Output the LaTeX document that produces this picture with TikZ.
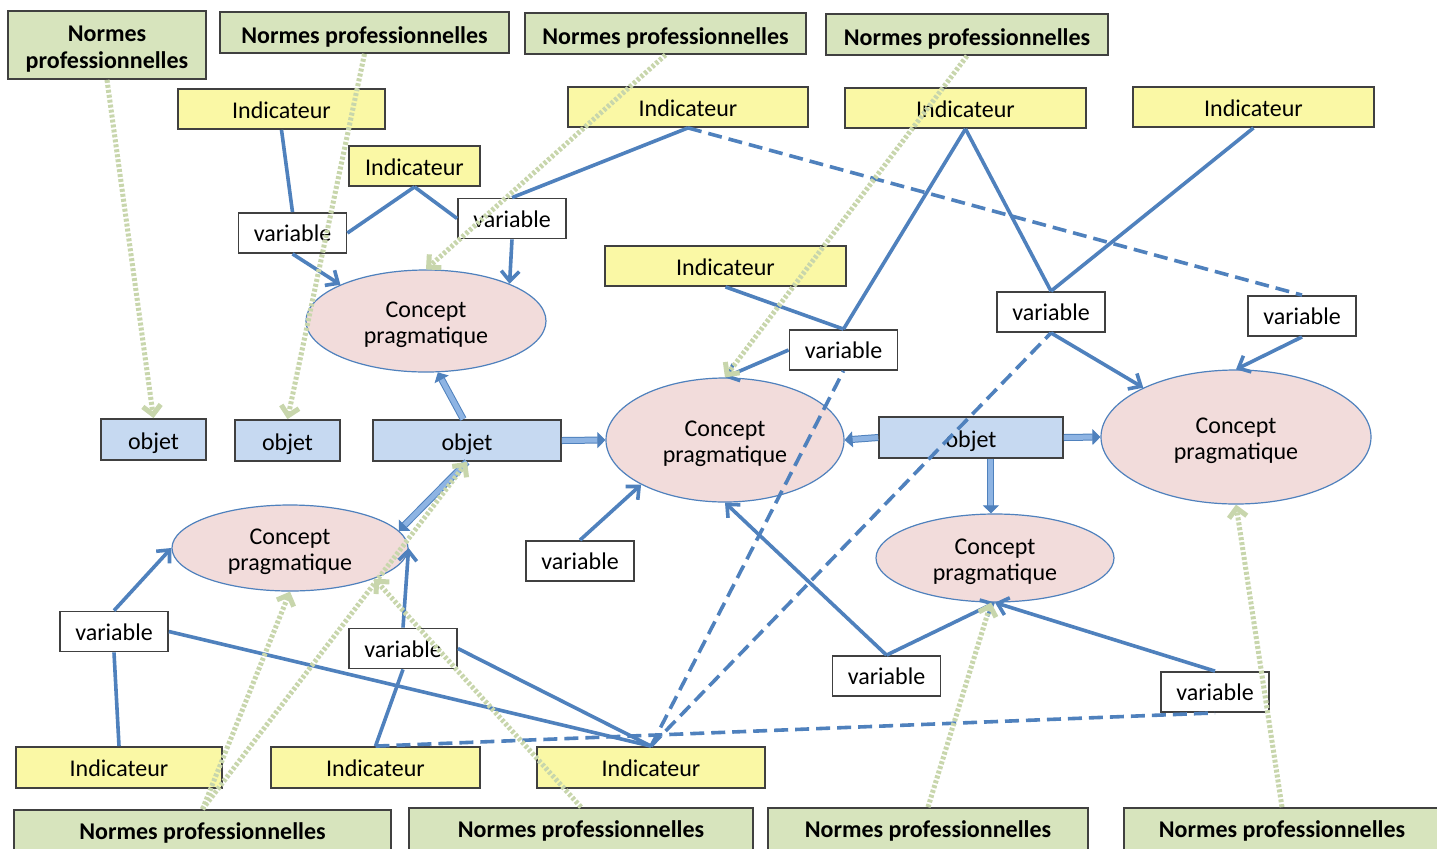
\documentclass[tikz,border=0pt]{standalone}
\usepackage{fontspec}
\setmainfont{Carlito}
\usetikzlibrary{arrows.meta,shapes.geometric}
\definecolor{lnblue}{HTML}{4F81BD}
\definecolor{normfill}{HTML}{D7E4BD}
\definecolor{indfill}{HTML}{FAF8A5}
\definecolor{objfill}{HTML}{C6D9F1}
\definecolor{concfill}{HTML}{F2DCDB}
\definecolor{greenln}{HTML}{C8D6AC}
\definecolor{boxln}{HTML}{404040}
\definecolor{blockfill}{HTML}{8EB4E3}
\newcommand\upstrut{\rule{0pt}{11.7pt}}
\begin{document}
\begin{tikzpicture}[x=0.5pt,y=-0.5pt,
 box/.style={draw=boxln, line width=0.9pt, inner sep=0pt, font=\fontsize{12}{13}\selectfont, align=center},
 norme/.style={box, fill=normfill, font=\fontsize{12}{13.5}\selectfont\bfseries},
 normetop/.style={norme, minimum height=20.5pt, text height=10.6pt, text depth=0pt},
 normebot/.style={norme, minimum height=23pt, text height=6pt, text depth=0pt},
 indic/.style={box, fill=indfill, minimum height=20pt, text height=9.3pt, text depth=0pt},
 varb/.style={box, fill=white, minimum width=54pt, minimum height=20pt, text height=8.8pt, text depth=0pt},
 objb/.style={box, fill=objfill, minimum height=20.5pt, text height=9.5pt, text depth=0pt},
 concept/.style={ellipse, draw=lnblue, line width=0.6pt, fill=concfill, inner sep=0pt, align=center, font=\fontsize{12}{13}\selectfont},
 link/.style={draw=lnblue, line width=1.8pt},
 arr/.style={link, -{Straight Barb[length=5pt,width=9pt]}},
 dsh/.style={link, dash pattern=on 7pt off 3.5pt},
 blockarr/.style={draw=lnblue, double=blockfill, line width=0.5pt, double distance=2.5pt, -{Triangle[length=4pt,width=8pt]}},
 normarr/.style={draw=greenln, line width=2.5pt, dash pattern=on 1.5pt off 1pt, -{Straight Barb[length=4.5pt,width=9pt]}}
]
\useasboundingbox (0,0) rectangle (1437,848);
\fill[white] (0,0) rectangle (1437,848);
\clip (0,0) rectangle (1437,848);

% Normes professionnelles
\node[norme, minimum width=99pt, minimum height=34pt] (N1) at (107,45) {\upstrut Normes\\professionnelles};
\node[normetop, minimum width=144.5pt] (N2) at (364.5,32.5) {Normes professionnelles};
\node[normetop, minimum width=140.5pt] (N3) at (665.5,33.5) {Normes professionnelles};
\node[normetop, minimum width=141pt] (N4) at (967,34.5) {Normes professionnelles};
\node[normebot, minimum width=188.5pt] (N5) at (202.5,833) {Normes professionnelles};
\node[normebot, minimum width=172pt] (N6) at (581,831) {Normes professionnelles};
\node[normebot, minimum width=160pt] (N7) at (928,831) {Normes professionnelles};
\node[normebot, minimum width=158pt] (N8) at (1282,831) {Normes professionnelles};

% Indicateurs
\node[indic, minimum width=103.5pt] (I1) at (281.5,109) {Indicateur};
\node[indic, minimum width=65.5pt] (I2) at (414.5,166) {Indicateur};
\node[indic, minimum width=120pt] (I3) at (688,107) {Indicateur};
\node[indic, minimum width=120.5pt] (I4) at (965.5,108) {Indicateur};
\node[indic, minimum width=120.5pt] (I5) at (1253.5,107) {Indicateur};
\node[indic, minimum width=120.5pt] (I6) at (725.5,266) {Indicateur};
\node[indic, minimum width=103pt, minimum height=20.5pt] (I7) at (119,767.5) {Indicateur};
\node[indic, minimum width=104.5pt, minimum height=20.5pt] (I8) at (375.5,767.5) {Indicateur};
\node[indic, minimum width=114pt, minimum height=20.5pt] (I9) at (651,767.5) {Indicateur};

% variables
\node[varb] (V1) at (292.5,233) {variable};
\node[varb] (V2) at (512,218.5) {variable};
\node[varb] (V3) at (843.5,350) {variable};
\node[varb] (V4) at (1051,312) {variable};
\node[varb] (V5) at (1302,316) {variable};
\node[varb] (V6) at (580,561) {variable};
\node[varb] (V7) at (114,631.5) {variable};
\node[varb] (V8) at (403,648.5) {variable};
\node[varb] (V9) at (886.5,676) {variable};
\node[varb] (V10) at (1215,692) {variable};

% objets
\node[objb, minimum width=52.5pt] (O1) at (153.5,439.5) {objet};
\node[objb, minimum width=52.5pt] (O2) at (287.5,440.5) {objet};
\node[objb, minimum width=94pt] (O3) at (467,440.5) {objet};
\node[objb, minimum width=92pt] (O4) at (971,437.5) {objet};

% concepts
\node[concept, minimum width=120pt, minimum height=51pt] (E1) at (426,321) {\upstrut Concept\\pragmatique};
\node[concept, minimum width=119pt, minimum height=62pt] (E2) at (725,440) {\upstrut Concept\\pragmatique};
\node[concept, minimum width=135pt, minimum height=67pt] (E3) at (1236,437) {\upstrut Concept\\pragmatique};
\node[concept, minimum width=118pt, minimum height=43pt] (E4) at (290,548) {\upstrut Concept\\pragmatique};
\node[concept, minimum width=119pt, minimum height=44pt] (E5) at (995,558) {\upstrut Concept\\pragmatique};

% solid links
\draw[link] (I1.south) -- (V1.north);
\draw[link] (I2.south) -- (V1.east);
\draw[link] (I2.south) -- (V2.west);
\draw[link] (I3.south) -- (V2.north);
\draw[link] (I4.south) -- (V3.north);
\draw[link] (I4.south) -- (V4.north);
\draw[link] (I5.south) -- (V4.north);
\draw[link] (I6.south) -- (V3.north);
\draw[link] (V7.east) -- (I9.north);
\draw[link] (V7.south) -- (I7.north);
\draw[link] (V8.south) -- (I8.north);
\draw[link] (V8.east) -- (I9.north);

% dashed links
\draw[dsh] (I3.south) -- (V5.north);
\draw[dsh] (I9.north) -- (V3.south);
\draw[dsh] (I9.north) -- (V4.south);
\draw[dsh] (I8.north) -- (V10.south);

% arrows variable -> concept
\draw[arr] (V1.south) -- (E1.157);
\draw[arr] (V2.south) -- (E1.24);
\draw[arr] (V3.west) -- (E2.north);
\draw[arr] (V4.south) -- (E3.152);
\draw[arr] (V5.south) -- (E3.north);
\draw[arr] (V6.north) -- (E2.208);
\draw[arr] (V7.north) -- (E4.west);
\draw[arr] (V8.north) -- (E4.east);
\draw[arr] (V9.north) -- (E2.south);
\draw[arr] (V9.north) -- (E5.south);
\draw[arr] (V10.north) -- (E5.south);

% block arrows objet -> concept
\draw[blockarr] (O3.100) -- (E1.283);
\draw[blockarr] (O3.south) -- (E4.9);
\draw[blockarr] (O3.east) -- (E2.west);
\draw[blockarr] (O4.west) -- (E2.east);
\draw[blockarr] (O4.east) -- (E3.west);
\draw[blockarr] (O4.313) -- (O4.313 |- E5.north);

% normes arrows
\draw[normarr] (N1.south) -- (O1.north);
\draw[normarr] (N2.south) -- (O2.north);
\draw[normarr] (N3.south) -- (E1.north);
\draw[normarr] (N4.south) -- (E2.north);
\draw[normarr] (N5.north) -- (O3.south);
\draw[normarr] (N5.north) -- (E4.south);
\draw[normarr] (N6.north) -- (E4.340);
\draw[normarr] (N7.north) -- (E5.265);
\draw[normarr] (N8.north) -- (E3.south);
\end{tikzpicture}
\end{document}
